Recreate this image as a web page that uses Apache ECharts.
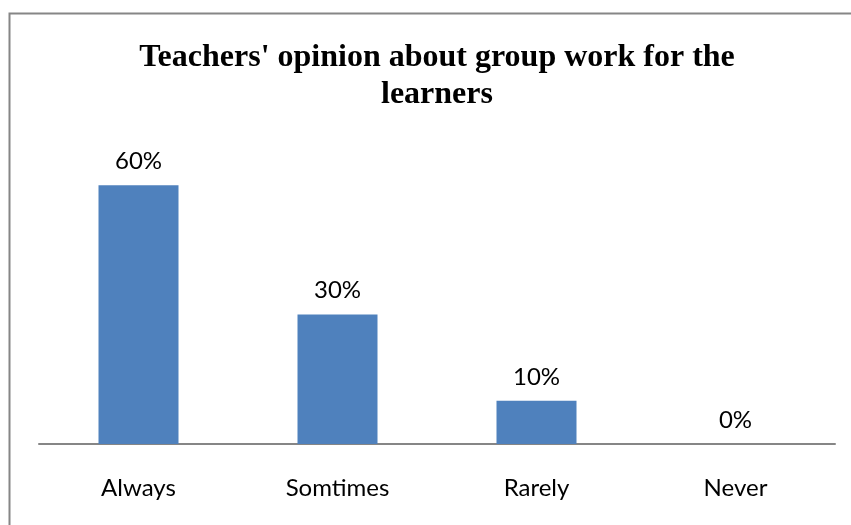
<!DOCTYPE html>
<html><head><meta charset="utf-8">
<script src="https://cdn.jsdelivr.net/npm/echarts@6/dist/echarts.min.js"></script>
<style>html,body{margin:0;padding:0;background:#fff}#c{width:851px;height:525px}</style>
</head><body><div id="c"></div>
<script>
var categories = ['Always', 'Somtimes', 'Rarely', 'Never'];
var values = [60, 30, 10, 0];
var titleText = "Teachers' opinion about group work for the\nlearners";

var chart = echarts.init(document.getElementById('c'), null, {renderer: 'canvas'});
chart.setOption({
  backgroundColor: '#fff',
  animation: false,
  title: {
    text: titleText,
    left: 432, top: 34, textAlign: 'center',
    textStyle: {fontFamily: 'Liberation Serif', fontWeight: 'bold', fontSize: 32, lineHeight: 37, color: '#000'}
  },
  graphic: [{
    type: 'rect', shape: {x: 9.5, y: 13.5, width: 900, height: 600},
    style: {fill: 'none', stroke: '#868686', lineWidth: 2}, silent: true
  }],
  grid: {left: 39, right: 16, top: 142, bottom: 81},
  xAxis: {
    type: 'category', data: categories,
    axisLine: {lineStyle: {color: '#868686', width: 2}},
    axisTick: {show: false},
    axisLabel: {fontFamily: 'Lato', fontSize: 24, color: '#000', margin: 32}
  },
  yAxis: {
    type: 'value', min: 0, max: 70, interval: 10,
    show: false, splitLine: {show: false}
  },
  series: [{
    type: 'bar', data: values, barWidth: 80,
    itemStyle: {color: '#4F81BD'},
    label: {show: true, position: 'top', distance: 12, formatter: '{c}%',
      fontFamily: 'Lato', fontSize: 24, color: '#000'}
  }]
});
</script></body></html>
